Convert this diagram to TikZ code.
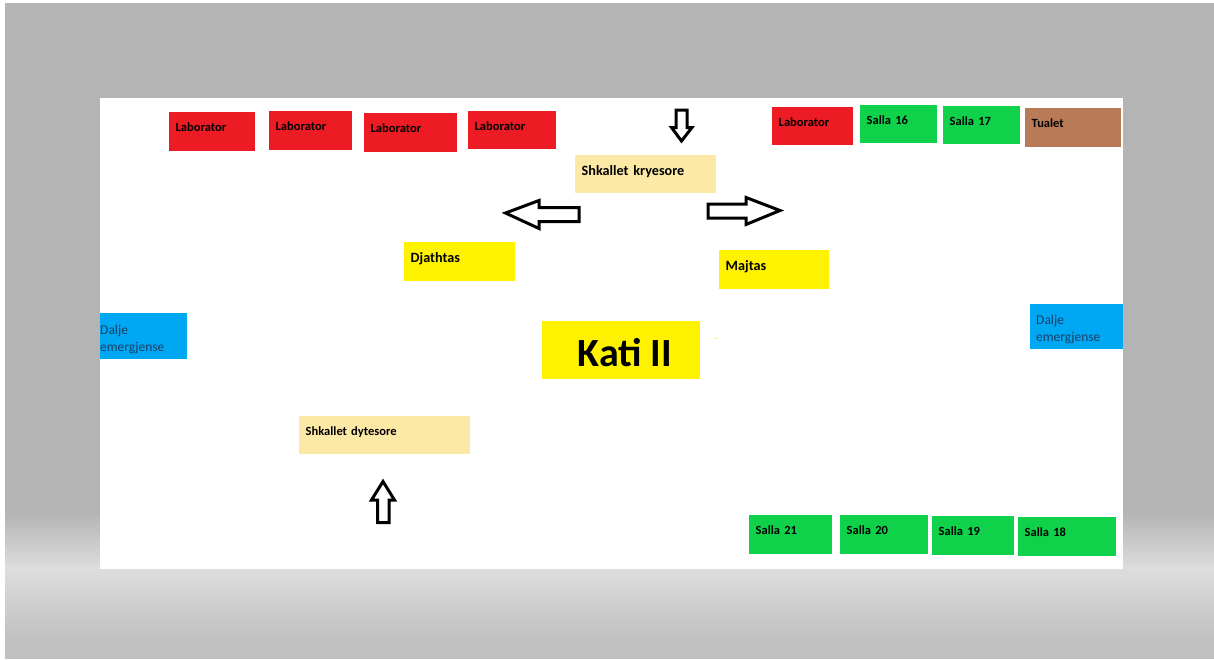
\documentclass[tikz,border=0pt]{standalone}
\usepackage{fontspec}
\setmainfont{Carlito}
\definecolor{wallgray}{HTML}{B3B4B3}
\definecolor{floorlight}{HTML}{DCDDDC}
\definecolor{floordark}{HTML}{BFC0BF}
\definecolor{labred}{HTML}{ED1C24}
\definecolor{roomgreen}{HTML}{10D24A}
\definecolor{stairbeige}{HTML}{FDE9A6}
\definecolor{sideyellow}{HTML}{FFF200}
\definecolor{exitblue}{HTML}{00A8F3}
\definecolor{wcbrown}{HTML}{B97A57}
\definecolor{exittext}{HTML}{1B3F66}
\tikzset{
  room/.style={anchor=north west,inner xsep=6.5pt,inner ysep=0pt,align=left,
    font=\fontsize{12.5}{14}\selectfont\bfseries,text=black,text height=19pt},
  bigroom/.style={room,font=\fontsize{14.2}{16}\selectfont\bfseries,text height=20.5pt},
  exitlabel/.style={anchor=north west,inner sep=0pt,align=left,text=exittext,font=\fontsize{13.5}{17}\selectfont},
  bigarrow/.style={draw=black,line width=3pt,fill=white,miter limit=10}
}
\begin{document}
\begin{tikzpicture}[x=1pt,y=-1pt]
          \useasboundingbox (0,0) rectangle (1214,659);
          \fill[floordark] (5,3) rectangle (1214,659);
          \fill[wallgray] (5,3) rectangle (1214,514);
          \foreach \i in {0,...,28}{
            \pgfmathsetmacro{\p}{\i*100/28}
            \fill[floorlight!\p!wallgray] (5,512+2*\i) rectangle (1214,515+2*\i);}
          \foreach \i in {0,...,36}{
            \pgfmathsetmacro{\p}{\i*100/36}
            \fill[floordark!\p!floorlight] (5,568+2*\i) rectangle (1214,571+2*\i);}
          \fill[white] (100,98) rectangle (1123,569);
          \foreach \n/\x/\y/\w/\h in {lab1/169/112/73/39,lab2/269/111/70/39,lab3/364/113/80/39,lab4/468/111/75/38,lab5/772/107/68/38}{
            \node[room,fill=labred,text width=\w pt,text depth=\h pt-19pt] (\n) at (\x,\y) {Laborator};}
          \foreach \n/\x/\y/\w/\h/\t in {s16/860/105/64/38/16,s17/943/106/64/38/17,s18/1018/517/85/39/18,s19/932/516/69/39/19,s20/840/515/75/39/20,s21/749/515/70/39/21}{
            \node[room,fill=roomgreen,text width=\w pt,text depth=\h pt-19pt] (\n) at (\x,\y) {Salla \t};}
          \node[room,fill=wcbrown,text width=83pt,text depth=20pt] (tualet) at (1025,108) {Tualet};
          \node[bigroom,fill=stairbeige,text width=128pt,text depth=17.5pt] (kryesore) at (575,155) {Shkallet kryesore};
          \node[room,fill=stairbeige,text width=158pt,text depth=19pt] (dytesore) at (299,416) {Shkallet dytesore};
          \node[bigroom,fill=sideyellow,text width=98pt,text depth=18.5pt] (djathtas) at (404,242) {Djathtas};
          \node[bigroom,fill=sideyellow,text width=97pt,text depth=18.5pt] (majtas) at (719,250) {Majtas};
          \node[anchor=north west,fill=sideyellow,minimum width=158pt,minimum height=58pt,inner sep=0pt] (kati) at (542,321) {};
          \node[inner sep=0pt,font=\fontsize{40}{44}\selectfont\bfseries] (katitext) at (625,352.5) {Kati II};
          \fill[sideyellow] (714.5,337.5) rectangle (716.5,339);
          \node[anchor=north west,fill=exitblue,minimum width=87pt,minimum height=46pt,inner sep=0pt] (daljel) at (100,313) {};
          \node[anchor=north west,fill=exitblue,minimum width=93pt,minimum height=45pt,inner sep=0pt] (daljer) at (1030,304) {};
          \node[exitlabel] (daljeltext) at (100,325) {Dalje\\emergjense};
          \node[exitlabel] (daljertext) at (1036,315) {Dalje\\emergjense};
          \draw[bigarrow] (505.5,213) -- (539,200.5) -- (539,207.5) -- (579,207.5) -- (579,221.5) -- (539,221.5) -- (539,228.5) -- cycle;
          \draw[bigarrow] (780,210.5) -- (746,197.5) -- (746,204) -- (708,204) -- (708,218) -- (746,218) -- (746,224.5) -- cycle;
          \draw[bigarrow] (681.5,141) -- (671.5,127.5) -- (676,127.5) -- (676,110) -- (687,110) -- (687,127.5) -- (692,127.5) -- cycle;
          \draw[bigarrow] (383,481.5) -- (371.5,500) -- (377.5,500) -- (377.5,522.5) -- (389,522.5) -- (389,500) -- (394.5,500) -- cycle;
        \end{tikzpicture}
\end{document}
